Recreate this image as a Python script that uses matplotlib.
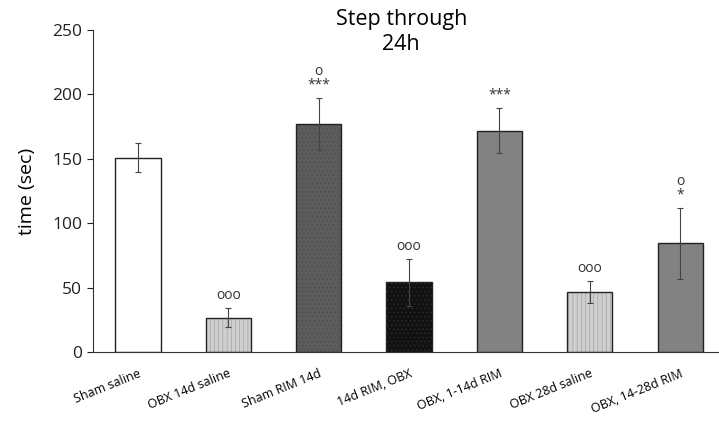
import matplotlib.pyplot as plt
import numpy as np

groups = ["Sham saline", "OBX 14d saline", "Sham RIM 14d", "14d RIM, OBX",
          "OBX, 1-14d RIM", "OBX 28d saline", "OBX, 14-28d RIM"]
means = [151, 26.5, 177, 54, 172, 46.5, 84.5]
errs = [11.5, 7.5, 20.5, 18, 17.5, 8.5, 27.5]
marks = ["", "ooo", "o\n***", "ooo", "***", "ooo", "o\n*"]

colors = ["white", "#cfcfcf", "#5c5c5c", "#111111", "#828282", "#cfcfcf", "#828282"]
hatches = [None, "||||", "....", "....", None, "||||", None]
hatch_cols = [None, "#9a9a9a", "#4a4a4a", "#333333", None, "#9a9a9a", None]

plt.rcParams['font.family'] = ['Open Sans', 'DejaVu Sans']
plt.rcParams['hatch.linewidth'] = 0.4

fig = plt.figure(figsize=(7.19, 4.24), dpi=100)
ax = fig.add_axes([0.129, 0.170, 0.871, 0.759])

x = np.arange(len(groups))
for i in range(len(groups)):
    b = ax.bar(x[i], means[i], width=0.5, color=colors[i], edgecolor="#222222",
               linewidth=1.0, zorder=2)
    if hatches[i]:
        b[0].set_hatch(hatches[i])
        b[0]._hatch_color = plt.matplotlib.colors.to_rgba(hatch_cols[i])
ax.errorbar(x, means, yerr=errs, fmt="none", ecolor="#444444", elinewidth=0.8,
            capsize=2, capthick=0.8, zorder=3)

for i in range(len(groups)):
    if marks[i]:
        ax.text(x[i], means[i] + errs[i] + 4, marks[i], ha="center", va="bottom",
                fontsize=10, color="#333333", linespacing=0.9)

ax.set_ylim(0, 250)
ax.set_xlim(-0.5, 6.43)
ax.set_yticks([0, 50, 100, 150, 200, 250])
ax.tick_params(axis="y", labelsize=12.5, length=4, direction="out", colors="#222222")
ax.set_xticks(x)
ax.set_xticklabels(groups, rotation=22, ha="right", fontsize=9,
                   rotation_mode="anchor")
ax.tick_params(axis="x", length=0, pad=11)
ax.spines["top"].set_visible(False)
ax.spines["right"].set_visible(False)
ax.spines["left"].set_color("#333333")
ax.spines["bottom"].set_color("#333333")
ax.set_ylabel("time (sec)", fontsize=14)
ax.yaxis.set_label_coords(-0.09, 0.5)

fig.text(0.558, 0.978, "Step through\n24h", ha="center", va="top", fontsize=15.5,
         linespacing=1.2)

fig.savefig("out.png", dpi=100)
